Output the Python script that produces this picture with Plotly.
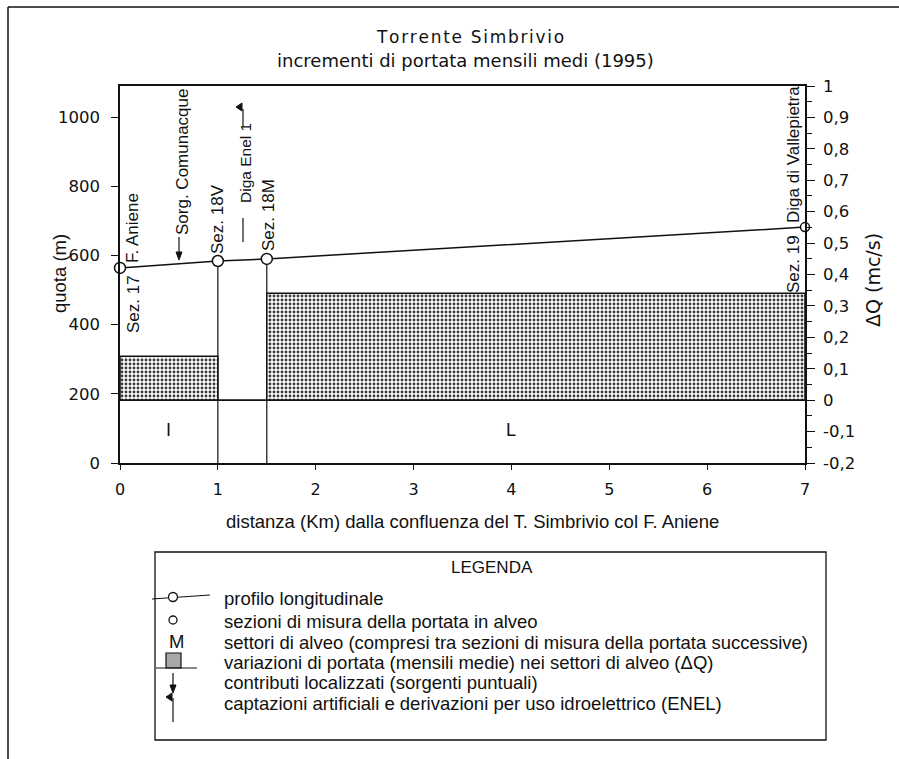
import plotly.graph_objects as go

# ---------------- data ----------------
section_km = [0, 1, 1.5, 7]
section_elev = [564, 584, 590, 682]          # quota (m)
section_names = ["Sez. 17", "Sez. 18V", "Sez. 18M", "Sez. 19"]

sector_labels = ["I", "M", "L"]
sector_start = [0, 1, 1.5]
sector_end = [1, 1.5, 7]
sector_dq = [0.14, 0.0, 0.34]                # ΔQ (mc/s)
sector_label_x = [0.5, None, 4.0]            # only I and L are labelled

x_ticks = [0, 1, 2, 3, 4, 5, 6, 7]
y_ticks = [0, 200, 400, 600, 800, 1000]
dq_ticks = [-0.2, -0.1, 0, 0.1, 0.2, 0.3, 0.4, 0.5, 0.6, 0.7, 0.8, 0.9, 1.0]
dq_minor = [-0.15, -0.05, 0.05, 0.15, 0.25, 0.35, 0.45, 0.55, 0.65, 0.75, 0.85, 0.95]

legend_rows = [
    "profilo longitudinale",
    "sezioni di misura della portata in alveo",
    "settori di alveo (compresi tra sezioni di misura della portata successive)",
    "variazioni di portata (mensili medie) nei settori di alveo (ΔQ)",
    "contributi localizzati (sorgenti puntuali)",
    "captazioni artificiali e derivazioni per uso idroelettrico (ENEL)",
]


def fmt_dq(v):
    if abs(v - round(v)) < 1e-9:
        return str(int(round(v)))
    return ("%.1f" % v).replace(".", ",")


dq_ticktext = [fmt_dq(v) for v in dq_ticks]

# ---------------- layout helpers ----------------
W, H = 899, 759
L, R, T, B = 120, 94, 86, 296
PW, PH = W - L - R, H - T - B


def px(xp):
    return (xp - L) / PW


def py(yp):
    return (H - B - yp) / PH


SANS = "Liberation Sans"
NARROW = "Liberation Sans Narrow, Liberation Sans"
DJ = "DejaVu Sans"
BLACK = "#111"

fig = go.Figure()

# ΔQ bars (sectors)
fig.add_trace(go.Bar(
    x=[(s + e) / 2 for s, e in zip(sector_start, sector_end)],
    y=sector_dq,
    width=[e - s for s, e in zip(sector_start, sector_end)],
    base=0,
    yaxis="y2",
    marker=dict(
        color="white",
        line=dict(color=BLACK, width=1.5),
        pattern=dict(shape=".", fgcolor="#3a3a3a", bgcolor="white",
                     size=4, solidity=0.42, fillmode="replace"),
    ),
    showlegend=False, hoverinfo="skip",
))

# zero ΔQ baseline across all sectors
fig.add_trace(go.Scatter(
    x=[sector_start[0], sector_end[-1]], y=[0, 0], yaxis="y2",
    mode="lines", line=dict(color=BLACK, width=1.5),
    showlegend=False, hoverinfo="skip",
))

# vertical lines at internal measuring sections
vx, vy = [], []
for k, e in zip(section_km[1:-1], section_elev[1:-1]):
    vx += [k, k, None]
    vy += [0, e, None]
fig.add_trace(go.Scatter(
    x=vx, y=vy, mode="lines", line=dict(color=BLACK, width=1.2),
    showlegend=False, hoverinfo="skip",
))

# longitudinal profile
fig.add_trace(go.Scatter(
    x=section_km, y=section_elev, mode="lines+markers",
    line=dict(color=BLACK, width=1.5),
    marker=dict(symbol="circle", size=[11, 11, 11, 9], color="#ffffff",
                opacity=1, line=dict(color=BLACK, width=1.5)),
    cliponaxis=False, showlegend=False, hoverinfo="skip",
))

ann = []
shapes = []


def A(xp, yp, text, font, size, angle=0, xa="center", ya="middle"):
    ann.append(dict(x=px(xp), y=py(yp), xref="paper", yref="paper", text=text,
                    showarrow=False, textangle=angle, xanchor=xa, yanchor=ya,
                    font=dict(family=font, size=size, color=BLACK)))


# sector labels
for lab, lx in zip(sector_labels, sector_label_x):
    if lx is not None:
        ann.append(dict(x=lx, y=95, xref="x", yref="y", text=lab, showarrow=False,
                        xanchor="center", yanchor="middle",
                        font=dict(family=SANS, size=18, color=BLACK)))

# rotated labels (pixel centers)
rot = [
    ("Sez. 17", 133, 304),
    ("F. Aniene", 132, 228),
    ("Sorg. Comunacque", 182, 162),
    ("Sez. 18V", 218, 219),
    ("Sez. 18M", 268, 215),
    ("Diga di Vallepietra", 793, 155),
    ("Sez. 19", 793, 264),
]
for t, xx, yy in rot:
    A(xx, yy, t, SANS, 17, angle=-90)
A(245, 163, "Diga Enel 1", NARROW, 15.5, angle=-90)


def seg(x0, y0, x1, y1, w=1.2):
    shapes.append(dict(type="line", xref="paper", yref="paper",
                       x0=px(x0), y0=py(y0), x1=px(x1), y1=py(y1),
                       line=dict(color=BLACK, width=w)))


def tri(pts):
    path = "M " + " L ".join("%f %f" % (px(a), py(b)) for a, b in pts) + " Z"
    shapes.append(dict(type="path", xref="paper", yref="paper", path=path,
                       fillcolor=BLACK, line=dict(color=BLACK, width=1)))


# Sorg. Comunacque arrow
seg(179, 237, 179, 253)
tri([(179, 260), (176, 252), (182, 252)])
# Diga Enel 1 dashes and hook
seg(243, 218, 243, 242)
seg(243, 109, 243, 127)
tri([(236, 107), (242, 103), (242, 111)])

# titles
A(470, 37, "\u200a".join("Torrente Simbrivio"), DJ, 17)
A(465, 60, "incrementi di portata mensili medi (1995)", DJ, 18)
# axis titles
A(59, 274, "quota (m)", SANS, 18.5, angle=-90)
A(873, 280, "ΔQ (mc/s)", DJ, 19, angle=-90)
A(472, 521, "distanza (Km) dalla confluenza del T. Simbrivio col F. Aniene", SANS, 18.5)

# outer frame (top and left edges)
seg(8, 7, 899, 7, 1.5)
seg(8, 7, 8, 759, 1.5)

# legend box
shapes.append(dict(type="rect", xref="paper", yref="paper",
                   x0=px(155), y0=py(552), x1=px(826), y1=py(740),
                   line=dict(color=BLACK, width=1.3), fillcolor="rgba(0,0,0,0)"))
A(492, 567, "LEGENDA", SANS, 17)
row_y = [598, 621, 642, 662, 682, 703]
for t, yy in zip(legend_rows, row_y):
    A(222, yy, t, SANS, 18.5, xa="left")
sx = 173
# row 1: profile symbol
seg(152, 599, 210, 595)
shapes.append(dict(type="circle", xref="paper", yref="paper",
                   x0=px(sx - 4.5), x1=px(sx + 4.5), y0=py(597 - 4.5), y1=py(597 + 4.5),
                   fillcolor="white", line=dict(color=BLACK, width=1.3)))
# row 2: section circle
shapes.append(dict(type="circle", xref="paper", yref="paper",
                   x0=px(sx - 4), x1=px(sx + 4), y0=py(620 - 4), y1=py(620 + 4),
                   fillcolor="white", line=dict(color=BLACK, width=1.3)))
# row 3: M
A(176, 641, "M", SANS, 18.5)
# row 4: stippled box
shapes.append(dict(type="rect", xref="paper", yref="paper",
                   x0=px(166), x1=px(181), y0=py(653), y1=py(668),
                   fillcolor="#a8a8a8", line=dict(color=BLACK, width=1.2)))
seg(156, 668, 197, 668)
# row 5: arrow down
seg(sx, 673, sx, 686)
tri([(sx, 693), (sx - 3, 685), (sx + 3, 685)])
# row 6: captation hook
seg(sx, 698, sx, 722)
tri([(sx - 7, 697), (sx - 1, 693), (sx - 1, 701)])

fig.update_layout(
    width=W, height=H,
    margin=dict(l=L, r=R, t=T, b=B),
    paper_bgcolor="white", plot_bgcolor="white",
    showlegend=False, barmode="overlay",
    annotations=ann, shapes=shapes,
    xaxis=dict(range=[0, 7], tickvals=x_ticks, ticks="outside", ticklen=5,
               tickcolor=BLACK, showline=True, linecolor=BLACK, linewidth=1.5,
               mirror=True, showgrid=False, zeroline=False, ticklabelstandoff=6,
               tickfont=dict(family=DJ, size=16, color=BLACK)),
    yaxis=dict(range=[0, 1090], tickvals=y_ticks, ticks="outside", ticklen=7,
               tickcolor=BLACK, showline=True, linecolor=BLACK, linewidth=1.5,
               showgrid=False, zeroline=False, ticklabelstandoff=8,
               tickfont=dict(family=DJ, size=16.5, color=BLACK)),
    yaxis2=dict(range=[-0.2, 1.0], overlaying="y", side="right",
                tickvals=dq_ticks, ticktext=dq_ticktext, ticks="outside", ticklen=8,
                tickcolor=BLACK, showline=True, linecolor=BLACK, linewidth=1.5,
                showgrid=False, zeroline=False, ticklabelstandoff=5,
                minor=dict(tickvals=dq_minor, ticks="outside", ticklen=5, tickcolor=BLACK),
                tickfont=dict(family=DJ, size=16.5, color=BLACK)),
)

fig.write_html("out.html")
